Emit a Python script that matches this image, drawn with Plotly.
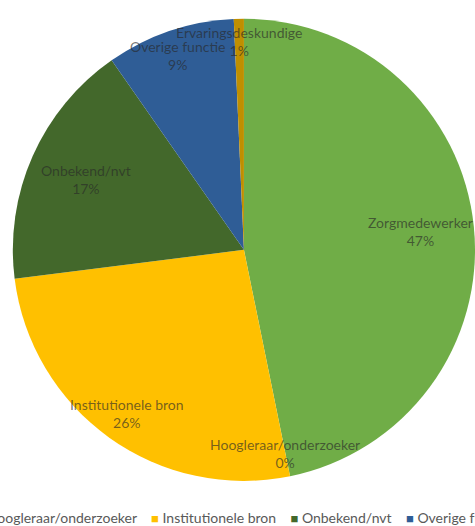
import math
import plotly.graph_objects as go

categories = ["Zorgmedewerker", "Hoogleraar/onderzoeker", "Institutionele bron",
              "Onbekend/nvt", "Overige functie", "Ervaringsdeskundige"]
values = [46.8, 0.0, 26.2, 17.3, 9.0, 0.7]

# styles
colors = ["#70AD47", "#A5A5A5", "#FFC000", "#43682B", "#2F5D96", "#BF8F00"]
label_radius = [0.77, 0.90, 0.87, 0.75, 0.89, 0.90]

W, H = 475, 526
dom_x = [0.027, 1.0]
dom_y = [0.06, 0.99]
FONT = "Lato"

fig = go.Figure(go.Pie(
    labels=categories, values=values,
    marker=dict(colors=colors, line=dict(width=0)),
    sort=False, direction="clockwise", rotation=0,
    textinfo="none", hoverinfo="label+percent",
    domain=dict(x=dom_x, y=dom_y), showlegend=False,
))

# pie geometry in pixels (from the domain)
cx = W * (dom_x[0] + dom_x[1]) / 2
cy = H * (1 - (dom_y[0] + dom_y[1]) / 2)
R = min(W * (dom_x[1] - dom_x[0]), H * (dom_y[1] - dom_y[0])) / 2

total = sum(values)
annotations = []
cum = 0.0
for name, v, f in zip(categories, values, label_radius):
    mid = (cum + v / 2) / total * 2 * math.pi
    cum += v
    px = cx + f * R * math.sin(mid)
    py = cy - f * R * math.cos(mid)
    pct = round(100 * v / total)
    annotations.append(dict(
        x=px / W, y=1 - py / H, xref="paper", yref="paper",
        text=f"{name}<br>{pct}%", showarrow=False,
        xanchor="center", yanchor="middle",
        font=dict(family=FONT, size=14, color="rgba(40,40,40,0.64)"),
    ))

# legend row (wider than the page, centered under the pie)
sep = "&nbsp;" * 4
legend_text = sep.join(
    f"<span style='color:{c};font-size:13px'>■</span>&nbsp;{n}"
    for n, c in zip(categories, colors)
)
annotations.append(dict(
    x=255 / W, y=1 - 517 / H, xref="paper", yref="paper",
    text=legend_text, showarrow=False, xanchor="center", yanchor="middle",
    font=dict(family=FONT, size=14, color="#595959"),
))

fig.update_layout(
    width=W, height=H, margin=dict(l=0, r=0, t=0, b=0),
    paper_bgcolor="white", plot_bgcolor="white",
    annotations=annotations,
)
fig.write_html(
    "out.html",
    config={"displayModeBar": False},
    post_script="document.body.style.margin='0';document.body.style.overflow='hidden';",
)
